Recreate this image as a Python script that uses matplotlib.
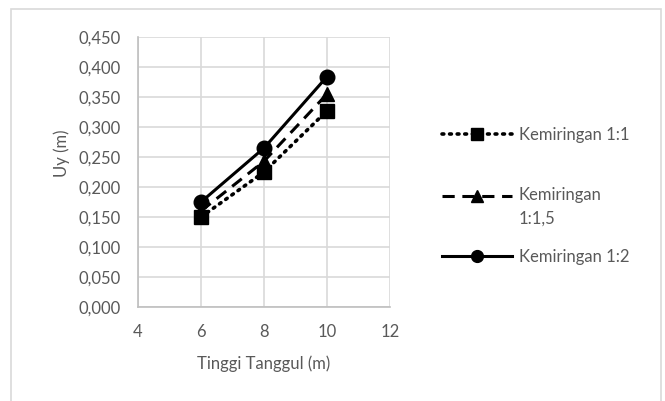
import matplotlib.pyplot as plt
from matplotlib.patches import Rectangle
from matplotlib.legend_handler import HandlerLine2D

# data
tinggi = [6, 8, 10]
k11 = [0.150, 0.225, 0.327]
k115 = [0.160, 0.243, 0.355]
k12 = [0.175, 0.265, 0.384]
labels = ["Kemiringan 1:1", "Kemiringan\n1:1,5", "Kemiringan 1:2"]

plt.rcParams['font.family'] = ['Lato', 'DejaVu Sans']
grey = '#595959'
fs = 12


class FirstLineHandler(HandlerLine2D):
    # put the handle level with the first line of a two-line label
    def create_artists(self, legend, orig_handle, xdescent, ydescent, width, height, fontsize, trans):
        return super().create_artists(legend, orig_handle, xdescent, ydescent - 1.45 * fontsize,
                                      width, height, fontsize, trans)


fig = plt.figure(figsize=(6.65, 4.01), dpi=100)
ax = fig.add_axes([0.2075, 0.2344, 0.379, 0.6733])

# outer chart border
fig.patches.append(Rectangle((11/665, -0.1), 650/665, 1.1 - 9/401, transform=fig.transFigure,
                             fill=False, edgecolor='#d9d9d9', linewidth=1.2))

l1, = ax.plot(tinggi, k11, color='black', linestyle=(0, (0.5, 1.6)), dash_capstyle='round',
              linewidth=2.6, marker='s', markersize=10)
l2, = ax.plot(tinggi, k115, color='black', linestyle=(0, (4, 2.5)), linewidth=2.2,
              marker='^', markersize=10)
l3, = ax.plot(tinggi, k12, color='black', linestyle='-', linewidth=2.2,
              marker='o', markersize=10.5)

ax.set_xlim(4, 12)
ax.set_ylim(0, 0.45)
ax.set_xticks([4, 6, 8, 10, 12])
ax.set_yticks([i * 0.05 for i in range(10)])
ax.set_yticklabels([('%.3f' % (i * 0.05)).replace('.', ',') for i in range(10)])
ax.tick_params(length=0, labelsize=fs, colors=grey)
ax.tick_params(axis='y', pad=12.5)
ax.tick_params(axis='x', pad=12)
ax.grid(True, color='#d9d9d9', linewidth=1.2)
ax.set_axisbelow(True)
for s in ['top', 'right']:
    ax.spines[s].set_visible(False)
for s in ['left', 'bottom']:
    ax.spines[s].set_color('#bfbfbf')
    ax.spines[s].set_linewidth(1.2)

ax.set_xlabel('Tinggi Tanggul (m)', fontsize=fs, color=grey, labelpad=11)
ax.set_ylabel('Uy (m)', fontsize=fs, color=grey)
ax.yaxis.set_label_coords(-0.27, 0.57)

# one legend per entry, spaced like the original
lines = [l1, l2, l3]
centres = [135, 207, 257]
for line, lab, yc in zip(lines, labels, centres):
    hm = {line: FirstLineHandler()} if '\n' in lab else {}
    leg = fig.legend([line], [lab], loc='center left', bbox_to_anchor=(442/665, 1 - yc/401),
                     frameon=False, fontsize=fs, labelcolor=grey, handlelength=4.2,
                     handletextpad=0.4, borderpad=0, borderaxespad=0, handler_map=hm)
    for t in leg.get_texts():
        t.set_linespacing(1.55)
    leg.legend_handles[0].set_markersize(8.5)

fig.savefig('out.png', dpi=100)
